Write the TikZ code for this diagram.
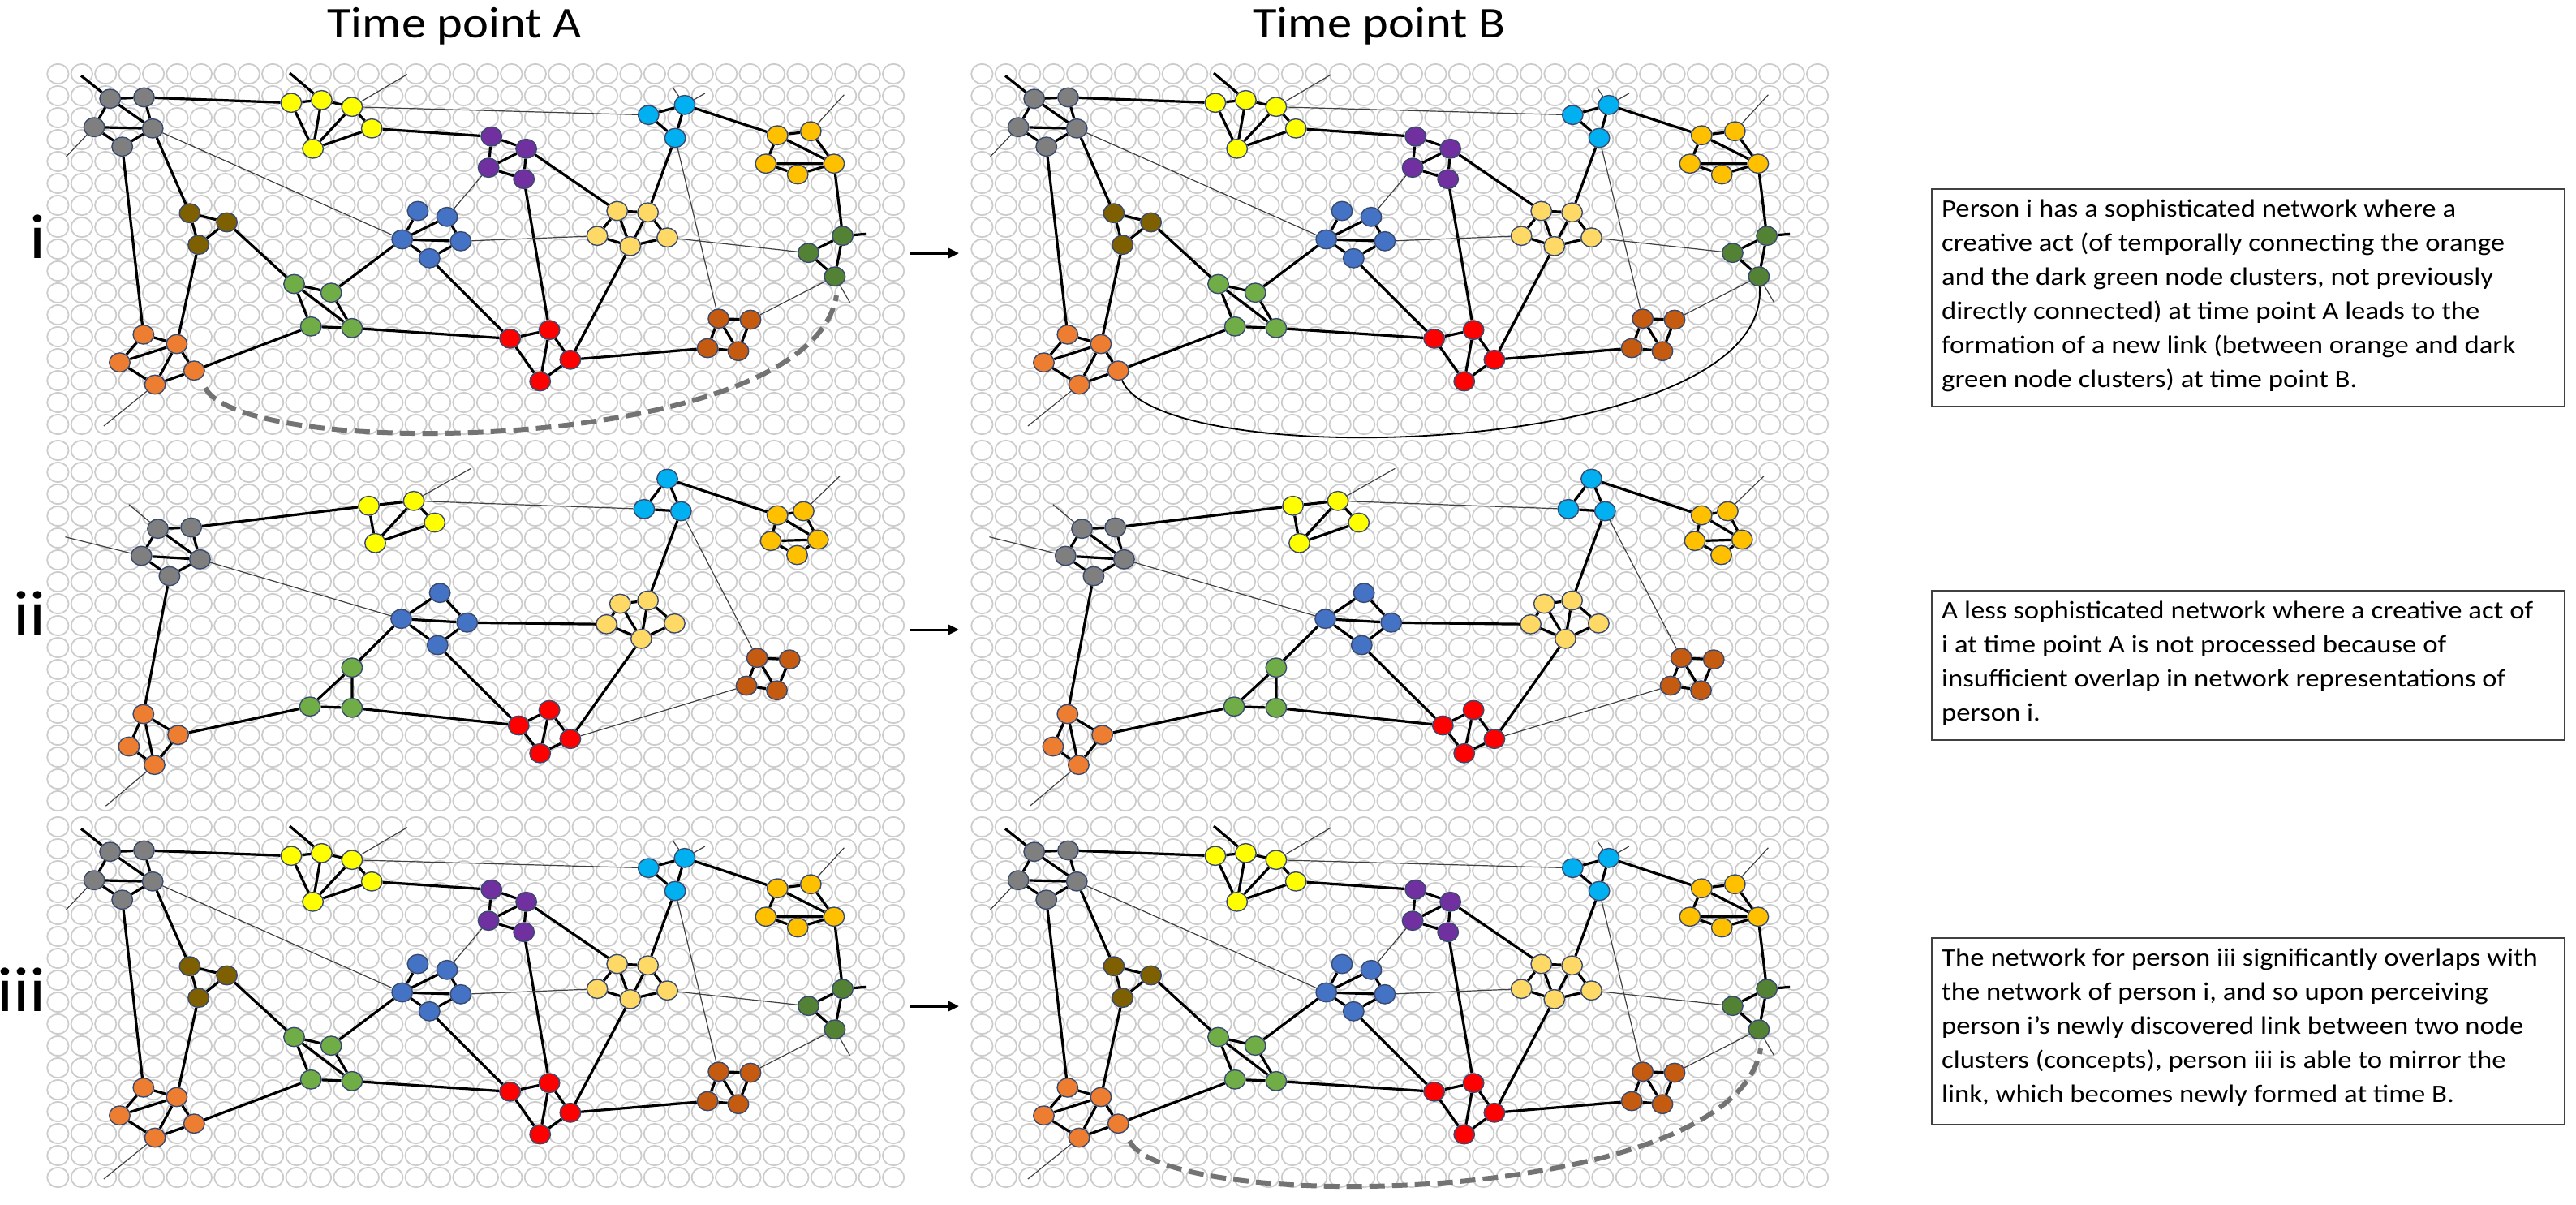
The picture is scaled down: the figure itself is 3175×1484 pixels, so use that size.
\documentclass[tikz,border=0pt]{standalone}
\usepackage{fontspec}
\setmainfont{Carlito}
\usetikzlibrary{arrows.meta,shapes.geometric}
\definecolor{cgray}{HTML}{7F7F7F}
\definecolor{cyel}{HTML}{FFFF00}
\definecolor{cpur}{HTML}{7030A0}
\definecolor{ccya}{HTML}{00B0F0}
\definecolor{cgold}{HTML}{FFC000}
\definecolor{cbrn}{HTML}{7F6000}
\definecolor{cblu}{HTML}{4472C4}
\definecolor{cgrn}{HTML}{70AD47}
\definecolor{clyl}{HTML}{FFD966}
\definecolor{cdgr}{HTML}{548235}
\definecolor{corg}{HTML}{ED7D31}
\definecolor{cred}{HTML}{FF0000}
\definecolor{cdor}{HTML}{C55A11}
\definecolor{gridgray}{HTML}{CCCCCC}
\definecolor{ndline}{HTML}{3A4A6E}
\definecolor{dashgray}{HTML}{737373}
\pgfdeclarelayer{bgl}
\pgfdeclarelayer{gridl}
\pgfdeclarelayer{edges}
\pgfsetlayers{bgl,gridl,edges,main}
\tikzset{
  nd/.style={ellipse, draw=ndline, line width=1.4pt, minimum width=25.5pt, minimum height=23.5pt, inner sep=0pt},
  thk/.style={line width=3.2pt, draw=black},
  thn/.style={line width=1.2pt, draw=black!75},
  gridc/.style={draw=gridgray, line width=1.8pt},
  dsh/.style={line width=6pt, draw=dashgray, dash pattern=on 19pt off 9pt},
  newlink/.style={line width=1.8pt, draw=black},
  ttl/.style={anchor=base, inner sep=0pt, font=\fontsize{54}{60}\selectfont},
  rom/.style={anchor=base east, inner sep=0pt, font=\fontsize{78}{80}\selectfont},
  tbox/.style={draw=black!75, line width=2pt, anchor=north west, inner sep=0pt, minimum width=780pt},
  btxt/.style={anchor=north west, inner sep=0pt, font=\fontsize{31}{42}\selectfont},
  parrow/.style={line width=3pt, -{Triangle[length=13pt,width=12pt]}}
}
\def\netone{%
\node[nd,fill=cgray] (g1) at (135.7,121.7) {};
\node[nd,fill=cgray] (g2) at (177.5,120) {};
\node[nd,fill=cgray] (g3) at (116.1,156.7) {};
\node[nd,fill=cgray] (g4) at (188.2,158.3) {};
\node[nd,fill=cgray] (g5) at (150.7,180.7) {};
\node[nd,fill=cyel] (y1) at (358.9,126.7) {};
\node[nd,fill=cyel] (y2) at (396.4,123.3) {};
\node[nd,fill=cyel] (y3) at (433.9,131.7) {};
\node[nd,fill=cyel] (y4) at (458.2,158.3) {};
\node[nd,fill=cyel] (y5) at (385.7,183.3) {};
\node[nd,fill=cbrn] (br1) at (233.9,262.7) {};
\node[nd,fill=cbrn] (br2) at (279.6,274) {};
\node[nd,fill=cbrn] (br3) at (244.6,301.7) {};
\node[nd,fill=cblu] (b1) at (515,260) {};
\node[nd,fill=cblu] (b2) at (551,267.3) {};
\node[nd,fill=cblu] (b3) at (495.7,295) {};
\node[nd,fill=cblu] (b4) at (567.9,297.3) {};
\node[nd,fill=cblu] (b5) at (529.3,318.3) {};
\node[nd,fill=cgrn] (gr1) at (362.5,350) {};
\node[nd,fill=cgrn] (gr2) at (408.2,360.7) {};
\node[nd,fill=cgrn] (gr3) at (383.2,402.3) {};
\node[nd,fill=cgrn] (gr4) at (433.9,404.3) {};
\node[nd,fill=corg] (o1) at (176.8,412.3) {};
\node[nd,fill=corg] (o2) at (217.9,424) {};
\node[nd,fill=corg] (o3) at (147.5,446.7) {};
\node[nd,fill=corg] (o4) at (239.3,456.7) {};
\node[nd,fill=corg] (o5) at (191.1,474) {};
\node[nd,fill=ccya] (c1) at (799.3,141.7) {};
\node[nd,fill=ccya] (c2) at (843.9,129.3) {};
\node[nd,fill=ccya] (c3) at (832.1,170) {};
\node[nd,fill=cpur] (p1) at (605.7,168.3) {};
\node[nd,fill=cpur] (p2) at (648.6,183.3) {};
\node[nd,fill=cpur] (p3) at (602.1,206.7) {};
\node[nd,fill=cpur] (p4) at (645.7,220.7) {};
\node[nd,fill=clyl] (ly1) at (760.7,260) {};
\node[nd,fill=clyl] (ly2) at (798.6,261.7) {};
\node[nd,fill=clyl] (ly3) at (736.1,290.7) {};
\node[nd,fill=clyl] (ly4) at (776.8,303.3) {};
\node[nd,fill=clyl] (ly5) at (822.5,292.7) {};
\node[nd,fill=cgold] (u1) at (958.2,166.7) {};
\node[nd,fill=cgold] (u2) at (999.3,161.7) {};
\node[nd,fill=cgold] (u3) at (943.9,201.7) {};
\node[nd,fill=cgold] (u4) at (1027.9,201.7) {};
\node[nd,fill=cgold] (u5) at (983.2,215) {};
\node[nd,fill=cdgr] (dg1) at (1038.6,290.7) {};
\node[nd,fill=cdgr] (dg2) at (996.4,311.7) {};
\node[nd,fill=cdgr] (dg3) at (1028.9,340.7) {};
\node[nd,fill=cred] (r1) at (628.6,417.3) {};
\node[nd,fill=cred] (r2) at (677.1,406.7) {};
\node[nd,fill=cred] (r3) at (702.9,443.3) {};
\node[nd,fill=cred] (r4) at (665.7,470) {};
\node[nd,fill=cdor] (do1) at (885.7,392.7) {};
\node[nd,fill=cdor] (do2) at (925,394) {};
\node[nd,fill=cdor] (do3) at (872.1,429) {};
\node[nd,fill=cdor] (do4) at (910,432.7) {};
\coordinate (s1) at (100,93.3);
\coordinate (s2) at (81.4,193.3);
\coordinate (s3) at (357,90);
\coordinate (s4) at (501.8,91.7);
\coordinate (s5) at (829.6,108.3);
\coordinate (s6) at (868.9,115);
\coordinate (s7) at (1040.4,116.7);
\coordinate (s8) at (1067.1,288.3);
\coordinate (s9) at (1047.5,372.7);
\coordinate (s10) at (127.9,525);
\begin{pgfonlayer}{edges}
\draw[thk] (g1)--(g2) (g1)--(g3) (g1)--(g4) (g2)--(g4) (g3)--(g4) (g3)--(g5) (g5)--(g4)
 (y1)--(y2) (y2)--(y3) (y3)--(y4) (y1)--(y5) (y2)--(y5) (y3)--(y5) (y5)--(y4)
 (br1)--(br2) (br1)--(br3) (br2)--(br3)
 (b1)--(b3) (b2)--(b4) (b3)--(b2) (b3)--(b4) (b3)--(b5) (b5)--(b4)
 (p1)--(p2) (p1)--(p3) (p2)--(p3) (p2)--(p4) (p3)--(p4)
 (c1)--(c2) (c1)--(c3) (c2)--(c3)
 (u1)--(u2) (u1)--(u3) (u1)--(u4) (u2)--(u4) (u3)--(u4) (u3)--(u5) (u5)--(u4)
 (ly1)--(ly2) (ly1)--(ly3) (ly1)--(ly4) (ly2)--(ly4) (ly2)--(ly5) (ly3)--(ly4) (ly4)--(ly5)
 (gr1)--(gr2) (gr1)--(gr3) (gr1)--(gr4) (gr2)--(gr4) (gr3)--(gr4)
 (o1)--(o2) (o1)--(o3) (o3)--(o2) (o2)--(o4) (o2)--(o5) (o3)--(o5) (o5)--(o4)
 (r1)--(r2) (r1)--(r4) (r2)--(r4) (r2)--(r3) (r3)--(r4)
 (dg1)--(dg2) (dg1)--(dg3) (dg2)--(dg3)
 (do1)--(do2) (do1)--(do3) (do1)--(do4) (do2)--(do4) (do3)--(do4)
 (g2)--(y1) (g4)--(br1) (g5)--(o1) (y4)--(p1) (br3)--(o2) (br2)--(gr1) (b3)--(gr2)
 (b5)--(r1) (gr4)--(r1) (gr3)--(o4) (p2)--(ly1) (p4)--(r2) (c2)--(u1) (c3)--(ly2)
 (ly4)--(r3) (u4)--(dg1) (r3)--(do3)
 (g1)--(s1) (y2)--(s3) (dg1)--(s8);
\draw[thn] (g4)--(b3) (y3)--(c1) (b2)--(p3) (b4)--(ly3) (c3)--(do1) (ly5)--(dg2) (dg3)--(do2)
 (g3)--(s2) (y3)--(s4) (c2)--(s5) (c2)--(s6) (u2)--(s7) (dg3)--(s9) (o5)--(s10);
\end{pgfonlayer}
}
\def\nettwo{%
\node[nd,fill=cgray] (g1) at (194.6,651.7) {};
\node[nd,fill=cgray] (g2) at (235.7,650) {};
\node[nd,fill=cgray] (g3) at (174.3,685) {};
\node[nd,fill=cgray] (g4) at (246.4,689.3) {};
\node[nd,fill=cgray] (g5) at (208.9,710) {};
\node[nd,fill=cyel] (y1) at (454.6,623.3) {};
\node[nd,fill=cyel] (y2) at (510,617.3) {};
\node[nd,fill=cyel] (y3) at (535.7,644) {};
\node[nd,fill=cyel] (y4) at (462.5,669.3) {};
\node[nd,fill=cblu] (b1) at (542.1,730.7) {};
\node[nd,fill=cblu] (b3) at (494.6,762.7) {};
\node[nd,fill=cblu] (b4) at (575.7,767.3) {};
\node[nd,fill=cblu] (b5) at (539.3,795) {};
\node[nd,fill=cgrn] (gr1) at (433.9,822.7) {};
\node[nd,fill=cgrn] (gr2) at (382.1,870.7) {};
\node[nd,fill=cgrn] (gr3) at (433.9,872.3) {};
\node[nd,fill=corg] (o1) at (176.8,880) {};
\node[nd,fill=corg] (o2) at (219.6,905.7) {};
\node[nd,fill=corg] (o3) at (158.9,920) {};
\node[nd,fill=corg] (o4) at (190.4,942.7) {};
\node[nd,fill=ccya] (c1) at (822.5,590) {};
\node[nd,fill=ccya] (c2) at (793.9,627.3) {};
\node[nd,fill=ccya] (c3) at (839.3,630) {};
\node[nd,fill=cgold] (u1) at (958.2,635) {};
\node[nd,fill=cgold] (u2) at (990.4,630) {};
\node[nd,fill=cgold] (u3) at (950,666.7) {};
\node[nd,fill=cgold] (u4) at (1008.2,665) {};
\node[nd,fill=cgold] (u5) at (982.5,684) {};
\node[nd,fill=clyl] (ly1) at (764.3,744) {};
\node[nd,fill=clyl] (ly2) at (798.6,740) {};
\node[nd,fill=clyl] (ly3) at (747.5,769.3) {};
\node[nd,fill=clyl] (ly4) at (831.4,768.3) {};
\node[nd,fill=clyl] (ly5) at (790.4,787.3) {};
\node[nd,fill=cred] (r1) at (639.3,894) {};
\node[nd,fill=cred] (r2) at (677.1,875) {};
\node[nd,fill=cred] (r3) at (702.9,910.7) {};
\node[nd,fill=cred] (r4) at (665.7,928.3) {};
\node[nd,fill=cdor] (do1) at (933.2,810.7) {};
\node[nd,fill=cdor] (do2) at (973.2,812.7) {};
\node[nd,fill=cdor] (do3) at (920,845) {};
\node[nd,fill=cdor] (do4) at (957.5,850.7) {};
\coordinate (s1) at (158.9,621.7);
\coordinate (s2) at (80.4,661.7);
\coordinate (s3) at (580.4,577.3);
\coordinate (s4) at (130.4,993.3);
\coordinate (s5) at (1035,586.7);
\begin{pgfonlayer}{edges}
\draw[thk] (g1)--(g2) (g1)--(g3) (g1)--(g4) (g2)--(g4) (g3)--(g4) (g3)--(g5) (g5)--(g4)
 (y1)--(y2) (y1)--(y4) (y2)--(y4) (y2)--(y3) (y3)--(y4)
 (b3)--(b1) (b1)--(b4) (b3)--(b4) (b3)--(b5) (b5)--(b4)
 (gr1)--(gr2) (gr1)--(gr3) (gr2)--(gr3)
 (o1)--(o2) (o1)--(o3) (o1)--(o4) (o2)--(o4) (o3)--(o4)
 (c1)--(c2) (c1)--(c3) (c2)--(c3)
 (u1)--(u2) (u1)--(u3) (u1)--(u4) (u2)--(u4) (u3)--(u4) (u3)--(u5) (u5)--(u4)
 (ly1)--(ly2) (ly1)--(ly3) (ly1)--(ly5) (ly2)--(ly5) (ly2)--(ly4) (ly3)--(ly5) (ly5)--(ly4)
 (r1)--(r2) (r1)--(r4) (r2)--(r4) (r2)--(r3) (r3)--(r4)
 (do1)--(do2) (do1)--(do3) (do1)--(do4) (do2)--(do4) (do3)--(do4)
 (g2)--(y1) (g5)--(o1) (b3)--(gr1) (b4)--(ly3) (b5)--(r1) (gr3)--(r1) (gr2)--(o2)
 (c1)--(u1) (c3)--(ly2) (ly5)--(r3);
\draw[thn] (g4)--(b3) (y2)--(c2) (c3)--(do1) (r3)--(do3)
 (g1)--(s1) (g3)--(s2) (y2)--(s3) (o4)--(s4) (u2)--(s5);
\end{pgfonlayer}
}
\def\dashlink{%
\coordinate (da) at (253,478);
\coordinate (db) at (1031,364);
\begin{pgfonlayer}{edges}
\draw[dsh] (da) .. controls (300,570) and (1000,560) .. (db);
\end{pgfonlayer}
}
\begin{document}
\begin{tikzpicture}[x=1pt,y=-1pt]
\useasboundingbox (0,0) rectangle (3175,1484);
\begin{pgfonlayer}{bgl}
\fill[white] (0,0) rectangle (3175,1484);
\end{pgfonlayer}
% grid of empty circles
\begin{pgfonlayer}{gridl}
\foreach \oy in {0,464,928}{
 \foreach \ox in {0,1139}{
  \foreach \j in {0,...,16}{
   \draw[gridc] \foreach \k in {0,...,35}{ ({71.4+\ox+29.42*\k},{91+\oy+27*\j}) ellipse (13.2pt and 12.2pt) };
  }}}
\end{pgfonlayer}
% titles
\node[ttl] (tA) at (560,46.7) {\scalebox{1.12}[1]{Time point A}};
\node[ttl] (tB) at (1700,46.7) {\scalebox{1.12}[1]{Time point B}};
% row labels
\node[rom] (li) at (57,318) {\scalebox{1.12}[1]{i}};
\node[rom] (lii) at (57,782) {\scalebox{1.12}[1]{ii}};
\node[rom] (liii) at (57,1246) {\scalebox{1.12}[1]{iii}};
% networks
\begin{scope}[name prefix=Ai-]
\netone
\dashlink
\end{scope}
\begin{scope}[shift={(1139,0)},name prefix=Bi-]
\netone
\begin{pgfonlayer}{edges}
\draw[newlink] (o4) .. controls (290,585) and (1045,565) .. (dg3);
\end{pgfonlayer}
\end{scope}
\begin{scope}[name prefix=Aii-]
\nettwo
\end{scope}
\begin{scope}[shift={(1139,0)},name prefix=Bii-]
\nettwo
\end{scope}
\begin{scope}[shift={(0,928)},name prefix=Aiii-]
\netone
\end{scope}
\begin{scope}[shift={(1139,928)},name prefix=Biii-]
\netone
\dashlink
\end{scope}
% arrows
\coordinate (a1s) at (1122,312); \coordinate (a1e) at (1182,312);
\coordinate (a2s) at (1122,776); \coordinate (a2e) at (1182,776);
\coordinate (a3s) at (1122,1240); \coordinate (a3e) at (1182,1240);
\draw[parrow] (a1s) -- (a1e);
\draw[parrow] (a2s) -- (a2e);
\draw[parrow] (a3s) -- (a3e);
% text boxes
\node[tbox, minimum height=268pt] (box1) at (2380,232) {};
\node[btxt] (t1) at ([xshift=13pt,yshift=-6pt]box1.north west) {\scalebox{1.12}[1]{\begin{tabular}{@{}l@{}}Person i has a sophisticated network where a\\creative act (of temporally connecting the orange\\and the dark green node clusters, not previously\\directly connected) at time point A leads to the\\formation of a new link (between orange and dark\\green node clusters) at time point B.\end{tabular}}};
\node[tbox, minimum height=184pt] (box2) at (2380,727) {};
\node[btxt] (t2) at ([xshift=13pt,yshift=-6pt]box2.north west) {\scalebox{1.12}[1]{\begin{tabular}{@{}l@{}}A less sophisticated network where a creative act of\\i at time point A is not processed because of\\insufficient overlap in network representations of\\person i.\end{tabular}}};
\node[tbox, minimum height=230pt] (box3) at (2380,1155) {};
\node[btxt] (t3) at ([xshift=13pt,yshift=-6pt]box3.north west) {\scalebox{1.12}[1]{\begin{tabular}{@{}l@{}}The network for person iii significantly overlaps with\\the network of person i, and so upon perceiving\\person i’s newly discovered link between two node\\clusters (concepts), person iii is able to mirror the\\link, which becomes newly formed at time B.\end{tabular}}};
\end{tikzpicture}
\end{document}
